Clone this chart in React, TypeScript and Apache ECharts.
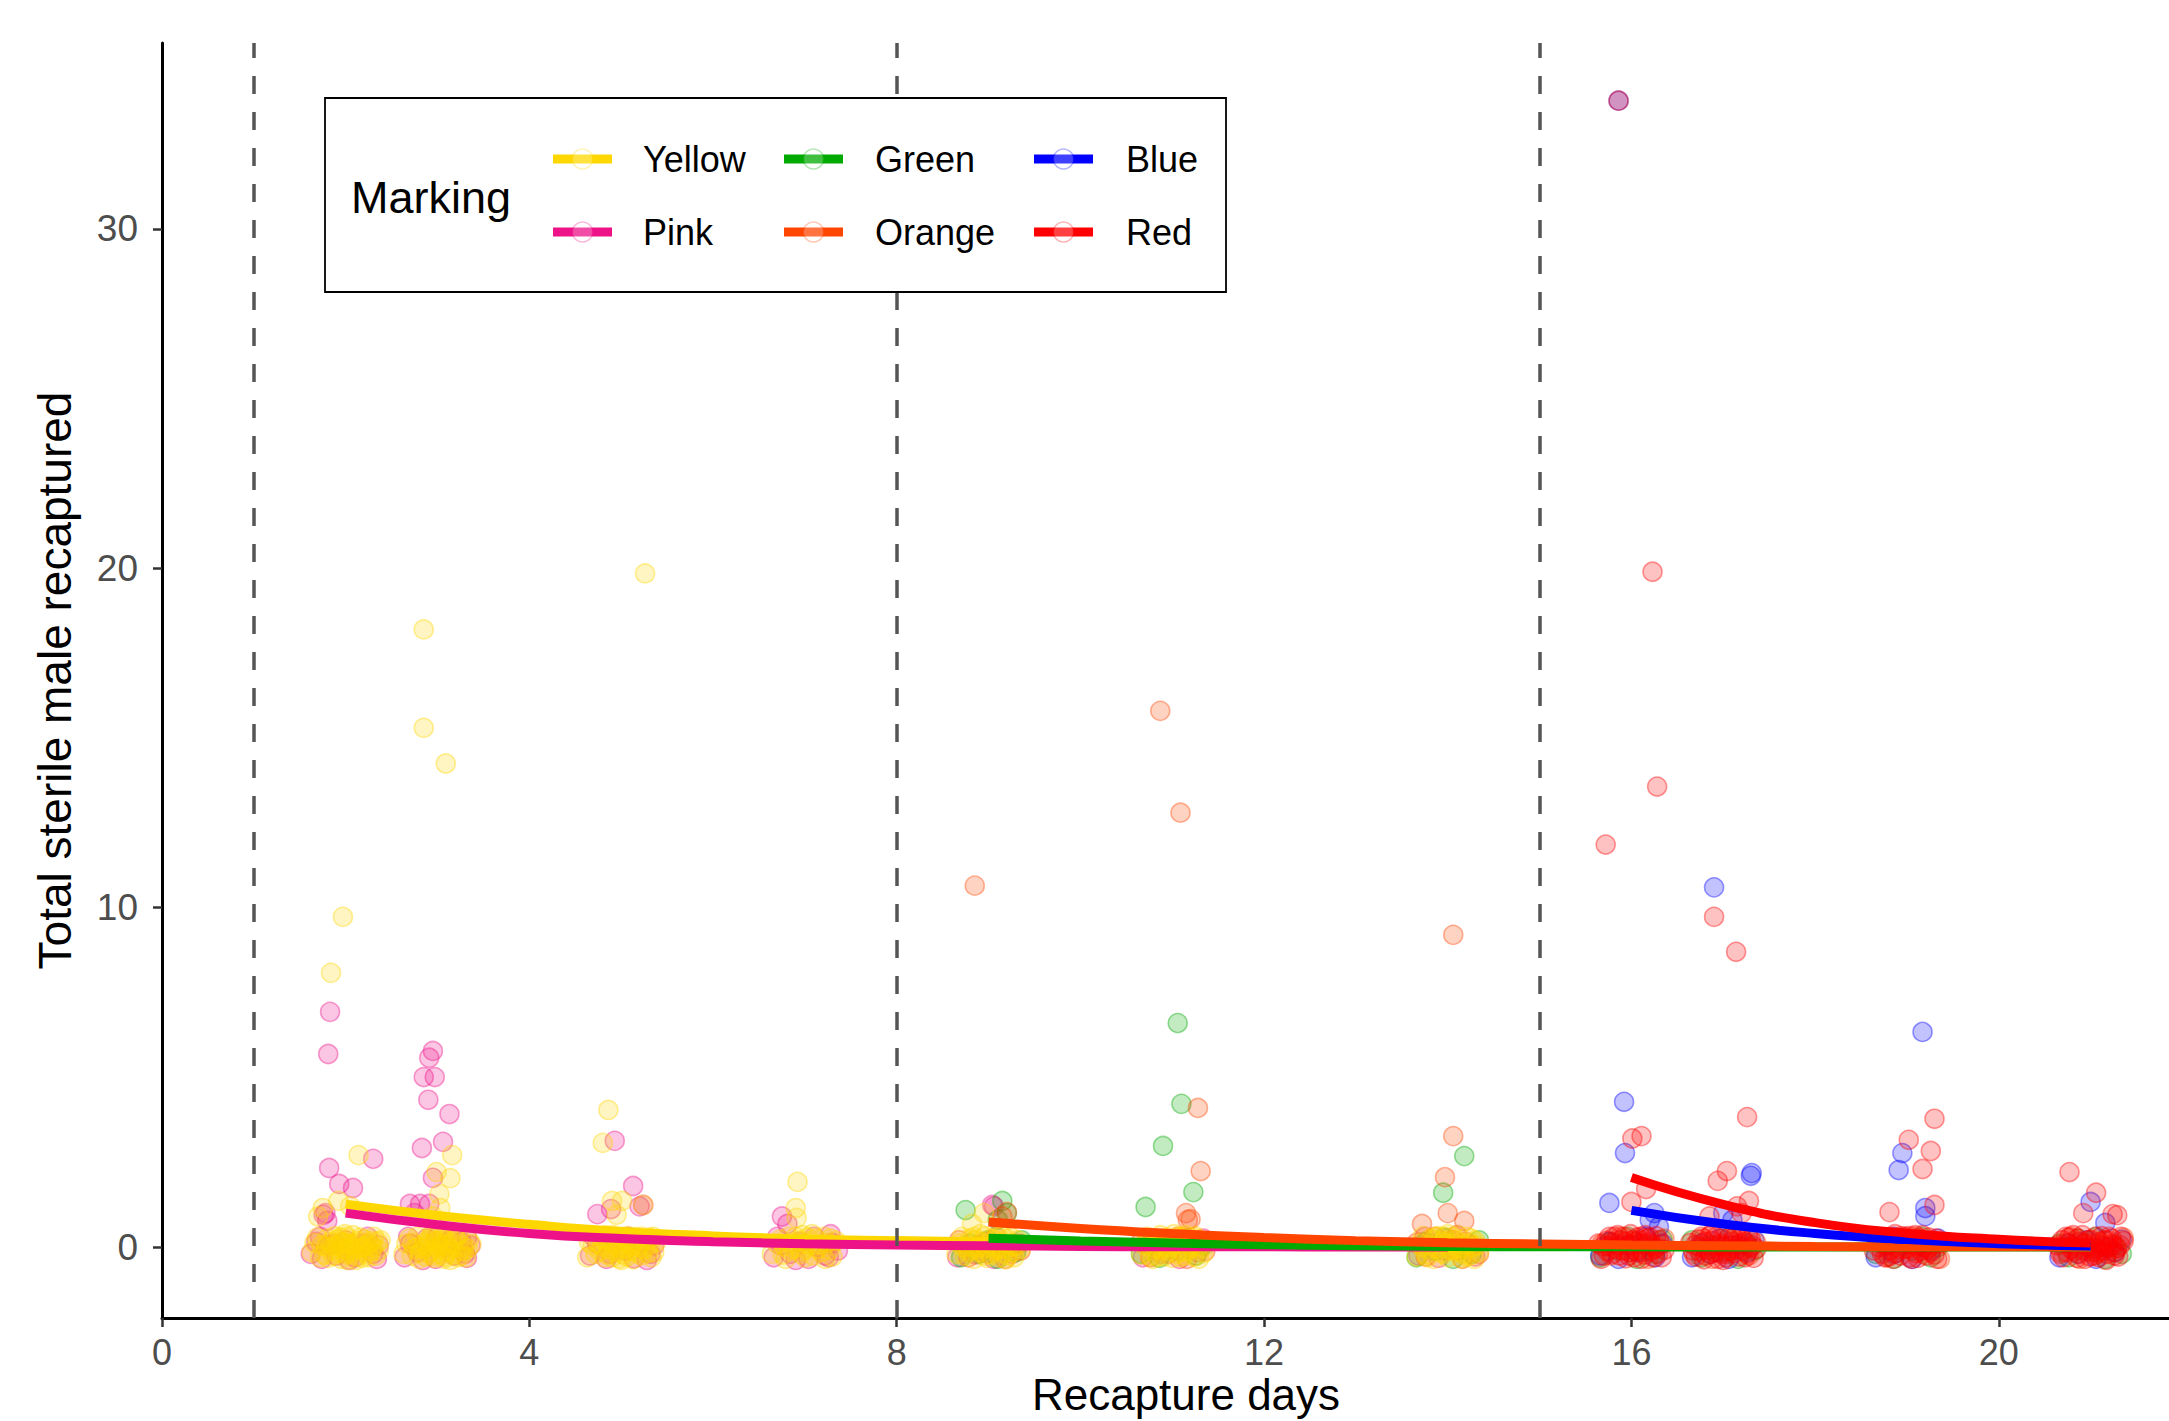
import React, { useEffect, useRef } from "react";
import * as echarts from "echarts";

const FONT = "'Liberation Sans', Arial, Helvetica, sans-serif";

const xTicks = [0, 4, 8, 12, 16, 20];
const yTicks = [0, 10, 20, 30];
const releaseDays = [1, 8, 15];

const markings = ["Yellow", "Pink", "Green", "Orange", "Blue", "Red"];
const markingColors = ["#FFD700", "#EE1289", "#00AA00", "#FF4500", "#0000FF", "#FF0000"];
const markingRgb = ["255,215,0", "238,18,137", "0,170,0", "255,69,0", "0,0,255", "255,0,0"];

const yellowPts = [
  [1.97, 9.73], [1.84, 8.08], [2.14, 2.71], [1.75, 1.15], [1.92, 1.36], [2.05, 1.2], [1.7, 0.9],
  [1.66, 0.12], [1.72, -0.3], [1.8, 0.25], [1.85, -0.1], [1.9, 0.05], [1.95, -0.35], [2.0, 0.3], [2.05, -0.2],
  [2.1, 0.1], [2.15, -0.05], [2.2, 0.22], [2.25, -0.3], [2.3, 0.0], [2.35, 0.15], [1.98, -0.05], [2.12, -0.28], [1.88, 0.32], [2.28, -0.12],
  [1.63, -0.15], [1.69, 0.28], [1.77, -0.22], [1.83, 0.15], [1.93, -0.18], [2.03, 0.1], [2.08, 0.35], [2.18, -0.32], [2.23, 0.05], [2.33, -0.25], [2.38, 0.2], [2.02, -0.38],
  [1.79, 0.02], [1.86, -0.25], [1.91, 0.22], [1.96, 0.12], [2.01, -0.12], [2.06, 0.05], [2.11, -0.38], [2.16, 0.28], [2.21, -0.15], [2.26, 0.12], [2.31, 0.3], [1.99, 0.38],
  [1.74, 0.05], [1.81, -0.32], [1.87, 0.02], [1.94, 0.28], [2.0, -0.22], [2.07, -0.08], [2.13, 0.18], [2.19, 0.0], [2.24, -0.22], [2.29, 0.18], [2.36, -0.1], [1.97, 0.15],
  [2.85, 18.2], [2.85, 15.3], [3.09, 14.25], [3.16, 2.71], [3.14, 2.03], [2.99, 2.21], [3.02, 1.56], [3.03, 1.15], [2.95, 0.9],
  [2.66, 0.1], [2.72, -0.25], [2.78, 0.3], [2.84, -0.05], [2.9, 0.2], [2.96, -0.32], [3.0, 0.05], [3.06, 0.28],
  [3.1, -0.15], [3.16, 0.12], [3.22, -0.3], [3.28, 0.02], [3.34, 0.2], [2.93, -0.12], [3.12, 0.35], [2.8, -0.35],
  [2.63, -0.2], [2.69, 0.25], [2.75, -0.05], [2.87, -0.28], [2.98, 0.33], [3.04, -0.22], [3.14, -0.38], [3.2, 0.25], [3.25, -0.12], [3.31, -0.3], [3.37, 0.08],
  [2.79, 0.0], [2.86, 0.12], [2.91, -0.2], [2.97, 0.18], [3.01, -0.05], [3.07, -0.35], [3.11, 0.05], [3.17, -0.22], [3.23, 0.38], [3.29, -0.1], [2.94, 0.38], [3.09, 0.18],
  [2.73, 0.12], [2.81, -0.18], [2.88, 0.05], [2.95, -0.25], [3.0, 0.18], [3.05, 0.05], [3.13, -0.08], [3.19, 0.32], [3.26, -0.25], [3.33, -0.05], [2.92, 0.28], [3.08, -0.28],
  [5.26, 19.85], [4.86, 4.04], [4.8, 3.07], [4.9, 1.36], [5.01, 1.36], [5.24, 1.24], [4.95, 0.95],
  [4.65, 0.15], [4.72, -0.2], [4.8, 0.28], [4.86, -0.05], [4.92, 0.1], [4.98, -0.33], [5.04, 0.22], [5.1, -0.1],
  [5.16, 0.3], [5.22, -0.25], [5.3, 0.05], [5.36, -0.15], [4.9, -0.3], [5.18, 0.02],
  [4.63, -0.3], [4.69, 0.05], [4.77, -0.12], [4.83, 0.35], [4.95, 0.25], [5.02, -0.2], [5.08, 0.12], [5.13, -0.36], [5.27, 0.2], [5.33, -0.3], [5.38, 0.15],
  [4.79, 0.02], [4.85, -0.22], [4.91, 0.35], [4.97, 0.0], [5.03, -0.05], [5.07, 0.32], [5.12, 0.15], [5.19, -0.2], [5.25, -0.05], [5.31, 0.28], [5.0, -0.38],
  [4.75, 0.12], [4.82, -0.3], [4.88, 0.18], [4.94, -0.15], [5.0, 0.3], [5.06, -0.28], [5.11, 0.02], [5.17, -0.12], [5.23, 0.3], [5.29, -0.18], [5.35, 0.3],
  [6.92, 1.92], [6.9, 1.15], [6.91, 0.86],
  [6.7, 0.1], [6.76, -0.22], [6.82, 0.3], [6.88, -0.05], [6.94, 0.18], [7.0, -0.3], [7.06, 0.05], [7.12, 0.25],
  [7.18, -0.15], [7.24, 0.12], [7.3, -0.28], [6.98, 0.35], [7.14, -0.05],
  [6.64, -0.2], [6.73, 0.22], [6.79, -0.35], [6.86, 0.12], [6.97, -0.12], [7.03, 0.28], [7.09, -0.25], [7.21, 0.3], [7.27, -0.08], [7.34, 0.18],
  [6.78, 0.02], [6.84, -0.1], [6.9, 0.3], [6.96, -0.2], [7.02, 0.12], [7.08, 0.38], [7.16, 0.08], [7.22, -0.35], [7.28, 0.25], [7.0, -0.05],
  [8.82, 0.68], [8.95, 1.0],
  [8.68, 0.1], [8.74, -0.25], [8.8, 0.25], [8.86, -0.05], [8.92, 0.15], [8.98, -0.32], [9.04, 0.05], [9.1, 0.3],
  [9.16, -0.18], [9.22, 0.1], [9.28, -0.3], [9.32, 0.2], [8.9, -0.15], [9.06, -0.1],
  [8.65, -0.2], [8.71, 0.3], [8.77, 0.0], [8.84, -0.35], [8.96, 0.32], [9.02, -0.22], [9.13, 0.12], [9.19, -0.36], [9.25, 0.28], [9.35, -0.05],
  [8.79, -0.1], [8.85, 0.2], [8.91, 0.38], [8.97, -0.02], [9.03, 0.25], [9.09, -0.05], [9.15, 0.32], [9.21, -0.25], [9.27, 0.02], [9.12, -0.3],
  [8.72, 0.0], [8.78, -0.15], [8.84, 0.3], [8.9, 0.0], [8.96, -0.25], [9.01, 0.12], [9.07, 0.2], [9.14, -0.05], [9.2, 0.25], [9.26, -0.15], [9.31, 0.05],
  [10.7, 0.05], [10.76, -0.25], [10.82, 0.2], [10.88, -0.08], [10.94, 0.28], [11.0, -0.32], [11.06, 0.1],
  [11.12, -0.15], [11.18, 0.22], [11.24, -0.28], [11.3, 0.02], [10.97, 0.0],
  [10.66, -0.22], [10.73, 0.3], [10.79, -0.35], [10.85, 0.12], [10.91, -0.28], [11.03, 0.25], [11.09, -0.3], [11.15, 0.35], [11.21, -0.02], [11.27, 0.25], [11.34, -0.18],
  [10.81, -0.02], [10.87, 0.35], [10.93, 0.0], [10.99, 0.15], [11.05, -0.2], [11.11, 0.3], [11.17, -0.1], [11.23, 0.12], [11.29, -0.35], [11.02, 0.38],
  [10.72, 0.18], [10.78, -0.1], [10.84, -0.28], [10.9, 0.18], [10.96, -0.12], [11.01, 0.08], [11.07, 0.3], [11.13, -0.25], [11.19, 0.05], [11.25, 0.32], [11.32, -0.05],
  [13.7, 0.1], [13.76, -0.22], [13.82, 0.25], [13.88, -0.05], [13.94, 0.15], [14.0, -0.3], [14.06, 0.3],
  [14.12, -0.12], [14.18, 0.08], [14.24, -0.26], [14.3, 0.18], [14.02, 0.02],
  [13.66, -0.28], [13.73, 0.32], [13.79, -0.05], [13.85, -0.35], [13.97, 0.3], [14.09, 0.2], [14.15, -0.33], [14.21, 0.3], [14.27, 0.0], [14.34, -0.15],
  [13.81, 0.05], [13.87, 0.3], [13.93, -0.18], [13.99, 0.1], [14.05, -0.1], [14.11, 0.35], [14.17, -0.2], [14.23, 0.12], [14.29, -0.35], [14.0, 0.38],
  [13.72, 0.0], [13.78, -0.3], [13.84, 0.2], [13.9, 0.32], [13.96, -0.2], [14.03, -0.08], [14.08, 0.1], [14.14, -0.02], [14.2, -0.28], [14.26, 0.25], [14.32, 0.05],
];

const pinkPts = [
  [1.83, 6.93], [1.81, 5.69], [1.82, 2.33], [1.93, 1.86], [2.08, 1.74], [2.3, 2.6], [1.78, 1.0], [1.8, 0.77], [1.76, 0.95],
  [1.62, -0.2], [1.68, 0.15], [1.74, -0.35], [1.82, 0.05], [1.9, -0.25], [2.0, 0.2], [2.1, -0.3], [2.2, 0.1], [2.3, -0.2], [2.36, 0.05],
  [1.72, 0.3], [1.88, 0.1], [2.04, -0.38], [2.24, 0.3], [2.34, -0.35],
  [2.95, 5.78], [2.91, 5.58], [2.85, 5.01], [2.97, 5.01], [2.9, 4.34], [3.13, 3.92], [2.83, 2.92], [3.06, 3.1], [2.95, 2.04],
  [2.7, 1.27], [2.81, 1.27], [2.91, 1.27], [3.32, 0.27], [2.75, 1.0],
  [2.64, -0.3], [2.7, 0.1], [2.78, -0.15], [2.88, 0.25], [2.98, -0.35], [3.08, 0.0], [3.18, -0.25], [3.26, 0.15], [3.32, -0.32], [3.36, 0.05],
  [2.68, 0.3], [2.84, -0.38], [3.0, 0.3], [3.14, 0.2], [3.3, -0.2],
  [4.93, 3.13], [5.13, 1.8], [4.89, 1.12], [4.74, 0.97], [5.24, 1.24], [5.2, 1.2],
  [4.66, -0.25], [4.74, 0.1], [4.84, -0.35], [4.94, 0.2], [5.04, -0.1], [5.14, -0.33], [5.24, 0.15], [5.32, -0.2], [5.36, 0.05],
  [4.7, 0.3], [4.88, -0.2], [5.08, 0.3], [5.28, -0.38],
  [6.81, 0.68], [7.28, 0.38], [6.75, 0.9],
  [6.66, -0.3], [6.74, 0.05], [6.84, -0.2], [6.94, 0.15], [7.04, -0.35], [7.14, 0.0], [7.22, -0.25], [7.3, 0.12], [7.36, -0.1],
  [6.7, 0.3], [6.9, -0.38], [7.1, 0.3], [7.26, -0.3],
  [9.04, 1.24], [9.06, 1.2],
  [8.66, -0.3], [8.76, 0.0], [8.86, -0.22], [8.96, 0.15], [9.06, -0.35], [9.16, 0.05], [9.26, -0.2], [9.34, 0.1],
  [10.68, -0.3], [10.78, 0.1], [10.88, -0.2], [10.98, 0.2], [11.08, -0.35], [11.18, 0.05], [11.28, -0.15], [11.34, 0.25],
  [13.75, 0.3], [14.1, 0.35],
  [13.68, -0.25], [13.78, 0.1], [13.9, -0.32], [14.0, 0.25], [14.1, -0.1], [14.2, 0.15], [14.3, -0.28],
];

const greenPts = [
  [8.75, 1.09], [9.15, 1.36], [9.2, 1.0], [9.1, 0.8],
  [8.7, -0.3], [8.8, 0.1], [8.9, -0.2], [9.0, 0.2], [9.1, -0.35], [9.2, 0.05], [9.3, -0.15], [9.36, 0.2],
  [11.06, 6.6], [11.1, 4.22], [10.9, 2.98], [11.23, 1.62], [10.71, 1.18],
  [10.66, -0.2], [10.76, 0.1], [10.86, -0.32], [10.96, 0.2], [11.06, -0.1], [11.16, 0.25], [11.26, -0.25], [11.34, 0.05],
  [14.18, 2.68], [13.95, 1.6],
  [13.66, -0.3], [13.76, 0.15], [13.86, -0.1], [13.96, 0.28], [14.06, -0.35], [14.16, 0.0], [14.26, -0.2], [14.34, 0.2],
  [15.66, -0.3], [15.76, 0.15], [15.86, -0.1], [15.96, 0.3], [16.06, -0.35], [16.16, 0.05], [16.26, -0.2], [16.34, 0.22],
  [16.66, 0.2], [16.76, -0.3], [16.86, 0.05], [16.96, -0.15], [17.06, 0.28], [17.16, -0.35], [17.26, 0.1], [17.34, -0.1],
  [18.66, -0.2], [18.76, 0.25], [18.86, -0.35], [18.96, 0.1], [19.06, -0.1], [19.16, 0.3], [19.26, -0.3], [19.34, 0.0],
  [20.66, 0.1], [20.76, -0.3], [20.86, 0.25], [20.96, -0.1], [21.06, 0.3], [21.16, -0.35], [21.26, 0.05], [21.34, -0.2],
];

const orangePts = [
  [8.85, 10.65], [9.2, 1.03], [9.15, 0.9],
  [8.68, 0.2], [8.78, -0.3], [8.88, 0.05], [8.98, -0.18], [9.08, 0.3], [9.18, -0.35], [9.28, 0.1], [9.35, -0.1],
  [10.87, 15.8], [11.09, 12.8], [11.28, 4.1], [11.31, 2.24], [11.17, 0.8], [11.2, 0.82], [11.15, 1.0],
  [10.66, 0.15], [10.76, -0.3], [10.86, 0.0], [10.96, -0.2], [11.06, 0.3], [11.16, -0.35], [11.26, 0.1], [11.36, -0.12],
  [14.06, 9.2], [14.06, 3.27], [13.97, 2.06], [14.0, 1.0], [13.72, 0.68], [14.18, 0.77],
  [13.66, 0.12], [13.76, -0.28], [13.86, 0.3], [13.96, -0.1], [14.06, 0.2], [14.16, -0.35], [14.26, 0.05], [14.34, -0.2],
  [15.68, 0.1], [15.78, -0.25], [15.88, 0.3], [15.98, -0.15], [16.08, 0.2], [16.18, -0.35], [16.28, 0.0], [16.36, 0.25],
  [16.68, -0.2], [16.78, 0.25], [16.88, -0.35], [16.98, 0.05], [17.08, -0.1], [17.18, 0.3], [17.28, -0.25], [17.36, 0.12],
  [18.68, 0.15], [18.78, -0.3], [18.88, 0.2], [18.98, -0.05], [19.08, 0.3], [19.18, -0.2], [19.28, 0.05], [19.36, -0.35],
  [20.68, -0.15], [20.78, 0.3], [20.88, -0.35], [20.98, 0.1], [21.08, -0.2], [21.18, 0.2], [21.28, -0.05], [21.36, 0.28],
];

const bluePts = [
  [15.86, 33.78], [15.92, 4.28], [15.93, 2.77], [15.76, 1.3], [16.25, 1.0], [16.2, 0.8], [16.3, 0.6],
  [15.66, -0.25], [15.76, 0.15], [15.86, -0.35], [15.96, 0.05], [16.06, -0.15], [16.16, 0.3], [16.26, -0.3], [16.34, 0.1],
  [16.9, 10.6], [17.31, 2.18], [17.3, 2.1], [17.0, 1.0], [17.1, 0.8],
  [16.66, -0.3], [16.76, 0.1], [16.86, -0.2], [16.96, 0.25], [17.06, -0.35], [17.16, 0.05], [17.26, -0.15], [17.34, 0.2],
  [19.17, 6.34], [18.95, 2.77], [18.91, 2.27], [19.2, 1.15], [19.2, 0.91], [18.85, 0.3],
  [18.66, -0.3], [18.76, 0.05], [18.86, -0.2], [18.96, 0.2], [19.06, -0.35], [19.16, 0.1], [19.26, -0.1], [19.34, 0.25],
  [21.0, 1.33], [21.16, 0.71],
  [20.66, -0.3], [20.76, 0.1], [20.86, -0.2], [20.96, 0.2], [21.06, -0.35], [21.16, 0.0], [21.26, -0.15], [21.34, 0.22],
];

const redPts = [
  [15.86, 33.78], [16.23, 19.9], [16.28, 13.57], [15.72, 11.86], [16.01, 3.2], [16.11, 3.27], [16.0, 1.33], [16.16, 1.71],
  [15.64, 0.1], [15.7, -0.25], [15.76, 0.3], [15.82, -0.05], [15.88, 0.2], [15.94, -0.33], [16.0, 0.05], [16.06, 0.28],
  [16.12, -0.15], [16.18, 0.12], [16.24, -0.3], [16.3, 0.2], [16.36, -0.08], [15.98, -0.15], [16.15, 0.35],
  [15.67, -0.35], [15.73, 0.18], [15.79, -0.2], [15.85, 0.35], [15.91, -0.1], [16.03, -0.3], [16.09, 0.1], [16.21, -0.12], [16.27, 0.32], [16.33, -0.3],
  [15.75, 0.02], [15.81, 0.3], [15.87, -0.25], [15.93, 0.15], [15.99, 0.38], [16.05, -0.1], [16.11, -0.35], [16.17, 0.25], [16.23, 0.05], [16.29, -0.2], [16.02, 0.2],
  [15.69, 0.02], [15.74, -0.12], [15.8, 0.12], [15.86, 0.05], [15.92, 0.3], [15.97, -0.25], [16.04, 0.15], [16.1, 0.3], [16.14, -0.22], [16.2, 0.28], [16.26, -0.05], [16.32, 0.08],
  [16.9, 9.73], [17.14, 8.7], [17.26, 3.83], [17.04, 2.24], [16.94, 1.95], [17.28, 1.36], [17.15, 1.2], [16.85, 0.9], [17.2, 1.0],
  [16.64, 0.12], [16.7, -0.28], [16.76, 0.3], [16.82, -0.08], [16.88, 0.18], [16.94, -0.35], [17.0, 0.02], [17.06, 0.26],
  [17.12, -0.18], [17.18, 0.1], [17.24, -0.3], [17.3, 0.22], [17.36, -0.05], [16.98, -0.2], [17.14, 0.34],
  [16.67, -0.1], [16.73, 0.22], [16.79, -0.36], [16.85, 0.32], [16.91, -0.15], [17.03, -0.3], [17.09, 0.05], [17.21, -0.1], [17.27, 0.35], [17.33, -0.32],
  [16.75, 0.0], [16.81, -0.25], [16.87, 0.38], [16.93, 0.05], [16.99, 0.25], [17.05, -0.12], [17.11, 0.28], [17.17, -0.28], [17.23, 0.15], [17.29, -0.02], [17.0, -0.38],
  [16.69, 0.05], [16.74, -0.12], [16.8, 0.15], [16.86, -0.2], [16.92, 0.3], [16.97, 0.1], [17.04, -0.2], [17.1, 0.15], [17.15, -0.05], [17.2, 0.3], [17.26, -0.2], [17.32, 0.05],
  [19.3, 3.78], [19.02, 3.16], [19.26, 2.83], [19.17, 2.3], [18.81, 1.03], [19.3, 1.24],
  [18.64, -0.1], [18.7, 0.25], [18.76, -0.3], [18.82, 0.08], [18.88, -0.18], [18.94, 0.32], [19.0, -0.05], [19.06, 0.2],
  [19.12, -0.32], [19.18, 0.0], [19.24, 0.28], [19.3, -0.22], [19.36, 0.1], [18.97, 0.15], [19.15, -0.12],
  [18.67, 0.3], [18.73, -0.2], [18.79, 0.05], [18.85, -0.35], [18.91, 0.22], [19.03, -0.3], [19.09, 0.35], [19.21, -0.25], [19.27, 0.1], [19.33, -0.35],
  [18.75, 0.12], [18.81, -0.1], [18.87, 0.38], [18.93, -0.25], [18.99, 0.1], [19.05, -0.35], [19.11, 0.02], [19.17, 0.35], [19.23, -0.05], [19.29, 0.15], [19.02, 0.32],
  [18.69, 0.0], [18.74, 0.2], [18.8, -0.28], [18.86, 0.15], [18.92, -0.05], [18.98, 0.3], [19.04, 0.08], [19.1, -0.18], [19.14, 0.25], [19.2, 0.1], [19.26, -0.15], [19.32, 0.25],
  [20.77, 2.21], [21.06, 1.6], [20.92, 1.0], [21.29, 0.94], [21.24, 0.97],
  [20.64, 0.05], [20.7, -0.3], [20.76, 0.28], [20.82, -0.12], [20.88, 0.15], [20.94, -0.35], [21.0, 0.22], [21.06, -0.05],
  [21.12, 0.32], [21.18, -0.2], [21.24, 0.08], [21.3, -0.28], [21.36, 0.18], [21.02, -0.15], [21.2, 0.0],
  [20.67, -0.2], [20.73, 0.3], [20.79, -0.05], [20.85, -0.32], [20.91, 0.35], [20.97, 0.0], [21.09, -0.3], [21.15, 0.2], [21.27, -0.15], [21.33, 0.3],
  [20.75, 0.12], [20.81, 0.35], [20.87, -0.2], [20.93, 0.1], [20.99, -0.28], [21.05, 0.3], [21.11, 0.05], [21.17, -0.38], [21.23, 0.25], [21.29, -0.02], [21.08, -0.15],
  [20.69, 0.2], [20.74, -0.15], [20.8, 0.05], [20.86, 0.25], [20.92, -0.1], [20.98, 0.2], [21.04, -0.25], [21.1, 0.15], [21.14, -0.1], [21.2, 0.3], [21.26, -0.25], [21.32, 0.05],
];

// Fitted curves
const yellowFit = [[2, 1.26], [3, 0.93], [4, 0.67], [5, 0.46], [6, 0.33], [7, 0.24], [8, 0.19], [9, 0.15], [10, 0.11], [11, 0.08], [12, 0.06], [13, 0.04], [14, 0.03]];
const pinkFit = [[2, 1.0], [3, 0.66], [4, 0.4], [5, 0.25], [6, 0.16], [7, 0.1], [8, 0.06], [9, 0.04], [10, 0.02], [11, 0.01], [12, 0.01], [13, 0.0], [14, 0.0]];
const greenFit = [[9, 0.26], [10, 0.18], [11, 0.12], [12, 0.07], [13, 0.04], [14, 0.02], [15, 0.01], [16, 0.01], [17, 0.0], [18, 0.0], [19, 0.0], [20, 0.0], [21, 0.0]];
const orangeFit = [[9, 0.74], [10, 0.55], [11, 0.4], [12, 0.28], [13, 0.19], [14, 0.13], [15, 0.09], [16, 0.06], [17, 0.04], [18, 0.02], [19, 0.01], [20, 0.01], [21, 0.0]];
const blueFit = [[16, 1.08], [17, 0.68], [18, 0.4], [19, 0.22], [20, 0.1], [21, 0.03]];
const redFit = [[16, 2.05], [17, 1.26], [18, 0.72], [19, 0.41], [20, 0.23], [21, 0.12]];

const pointsByMarking = [yellowPts, pinkPts, greenPts, orangePts, bluePts, redPts];
const fitsByMarking = [yellowFit, pinkFit, greenFit, orangeFit, blueFit, redFit];
// drawing order of point layers (indices into markings)
const pointOrder = [1, 2, 4, 3, 0, 5];

export default function App() {
  const ref = useRef<HTMLDivElement>(null);

  useEffect(() => {
    if (!ref.current) return;
    const chart = echarts.init(ref.current, undefined, { renderer: "svg" });

    const scatterSeries = pointOrder.map((i, k) => ({
      type: "scatter",
      name: markings[i],
      data: pointsByMarking[i],
      symbol: "circle",
      symbolSize: 19,
      silent: true,
      z: 2,
      itemStyle: {
        color: `rgba(${markingRgb[i]},0.3)`,
        borderColor: `rgba(${markingRgb[i]},0.5)`,
        borderWidth: 1.6,
      },
      markLine:
        k === 0
          ? {
              silent: true,
              symbol: "none",
              label: { show: false },
              lineStyle: { color: "#555555", width: 3.5, type: [18, 18] },
              data: releaseDays.map((d) => ({ xAxis: d })),
            }
          : undefined,
    }));

    const lineSeries = markings.map((m, i) => ({
      type: "line",
      name: m + " fit",
      data: fitsByMarking[i],
      smooth: 0.5,
      showSymbol: false,
      silent: true,
      z: 3,
      lineStyle: { color: markingColors[i], width: 9 },
      itemStyle: { color: markingColors[i] },
    }));

    // Legend (drawn as graphics to match the boxed 3x2 layout)
    const colX = [553, 784, 1034];
    const textX = [643, 875, 1126];
    const rowY = [159, 232];
    const legendItems: any[] = [];
    markings.forEach((m, i) => {
      const col = Math.floor(i / 2);
      const row = i % 2;
      const kx = colX[col];
      const ky = rowY[row];
      legendItems.push({
        type: "line",
        z: 101,
        shape: { x1: kx, y1: ky, x2: kx + 59, y2: ky },
        style: { stroke: markingColors[i], lineWidth: 9 },
      });
      legendItems.push({
        type: "circle",
        z: 102,
        shape: { cx: kx + 29.5, cy: ky, r: 10 },
        style: { fill: `rgba(255,255,255,0.25)`, stroke: `rgba(${markingRgb[i]},0.3)`, lineWidth: 1.5 },
      });
      legendItems.push({
        type: "text",
        z: 101,
        x: textX[col],
        y: ky,
        style: { text: m, fontSize: 36, fontFamily: FONT, fill: "#000", verticalAlign: "middle" },
      });
    });

    chart.setOption({
      animation: false,
      backgroundColor: "#ffffff",
      grid: { left: 162, right: 0, top: 43, bottom: 103, containLabel: false, outerBoundsMode: "none" },
      xAxis: {
        type: "value",
        min: 0,
        max: 22.3,
        name: "Recapture days",
        nameLocation: "middle",
        nameGap: 54,
        nameMoveOverlap: false,
        nameTextStyle: { fontSize: 44, color: "#000", fontFamily: FONT },
        axisLine: { show: true, onZero: false, lineStyle: { color: "#000", width: 3 } },
        axisTick: { show: true, length: 9, customValues: xTicks, lineStyle: { color: "#333", width: 2.5 } },
        axisLabel: { customValues: xTicks, fontSize: 36, color: "#4d4d4d", margin: 16, fontFamily: FONT },
        splitLine: { show: false },
      },
      yAxis: {
        type: "value",
        min: -2.09,
        max: 35.48,
        name: "Total sterile male recaptured",
        nameLocation: "middle",
        nameGap: 84,
        nameRotate: 90,
        nameTextStyle: { fontSize: 46, color: "#000", fontFamily: FONT },
        axisLine: { show: true, onZero: false, lineStyle: { color: "#000", width: 3 } },
        axisTick: { show: true, length: 9, customValues: yTicks, lineStyle: { color: "#333", width: 2.5 } },
        axisLabel: { customValues: yTicks, fontSize: 37, color: "#4d4d4d", margin: 24, fontFamily: FONT },
        splitLine: { show: false },
      },
      graphic: [
        {
          type: "rect",
          z: 100,
          shape: { x: 325, y: 98, width: 901, height: 194 },
          style: { fill: "#ffffff", stroke: "#000000", lineWidth: 1.8 },
        },
        {
          type: "text",
          z: 101,
          x: 351,
          y: 197,
          style: { text: "Marking", fontSize: 45, fontFamily: FONT, fill: "#000", verticalAlign: "middle" },
        },
        ...legendItems,
      ],
      series: [...scatterSeries, ...lineSeries],
    });

    return () => chart.dispose();
  }, []);

  return (
    <div style={{ position: "fixed", left: 0, top: 0, width: 2169, height: 1421, overflow: "hidden", background: "#fff" }}>
      <div ref={ref} style={{ width: 2210, height: 1421 }} />
    </div>
  );
}
